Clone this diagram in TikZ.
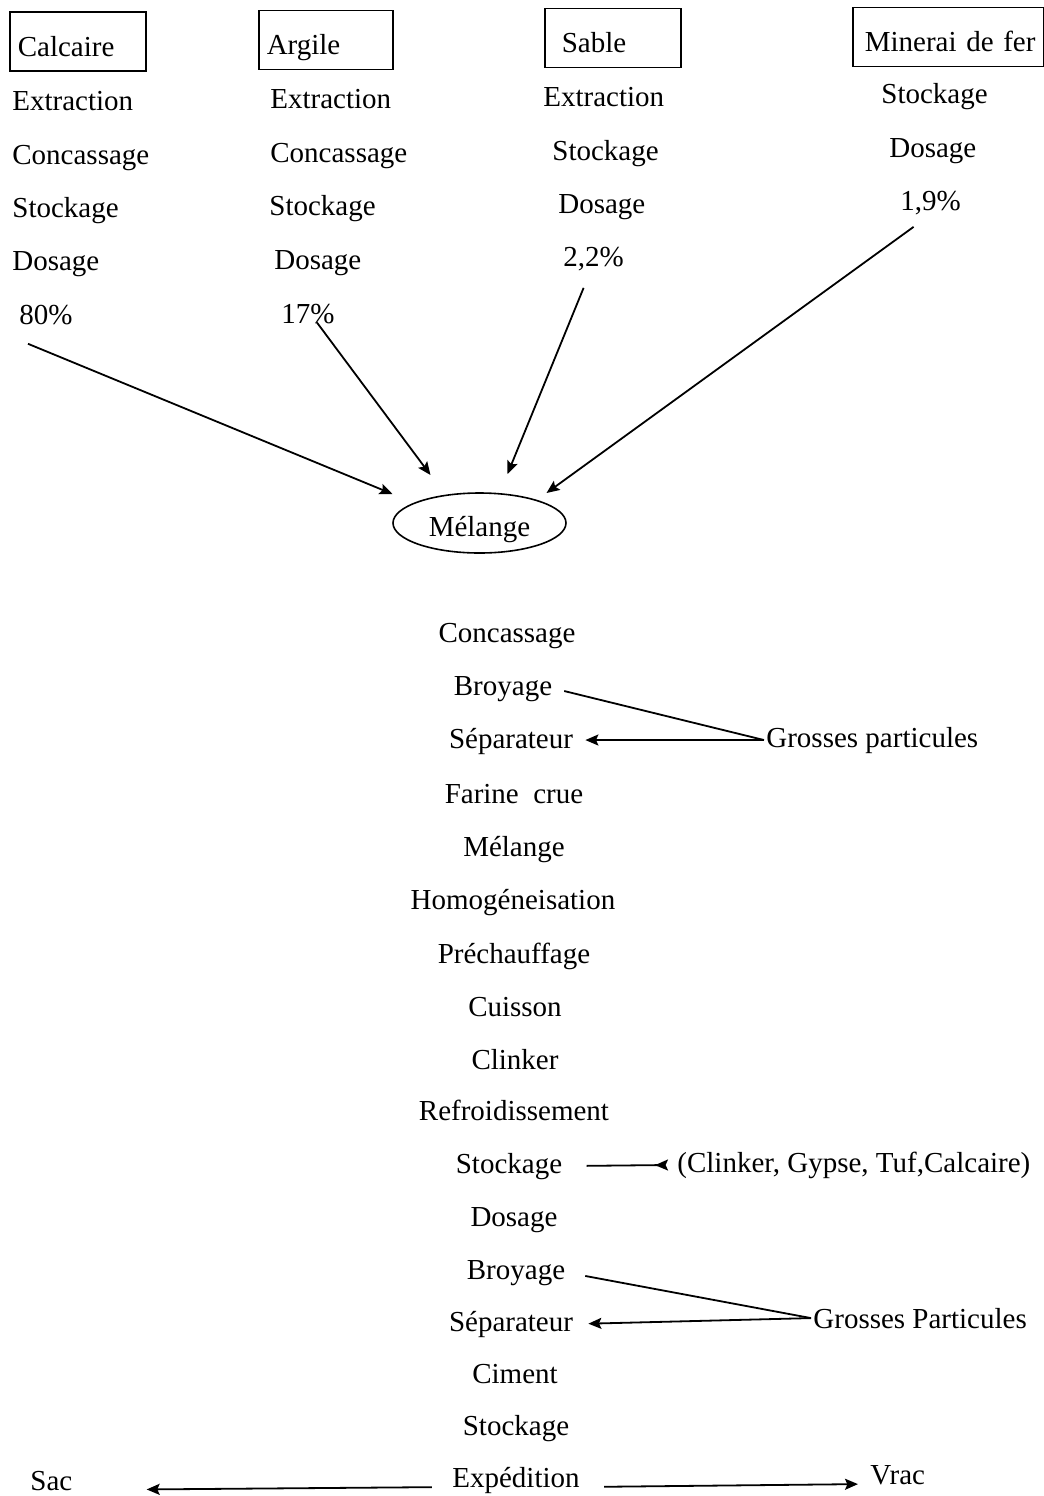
\documentclass[tikz,border=0pt]{standalone}
\usepackage{fontspec}
\setmainfont{Liberation Serif}
\usetikzlibrary{shapes.geometric, arrows.meta}

\begin{document}
\begin{tikzpicture}
        [x=0.5pt, y=-0.5pt,
        every node/.style={anchor=base, inner sep=1pt, font=\fontsize{14.5}{17}\selectfont},
        gauche/.style={anchor=base west},
        matiere/.style={draw, line width=0.8pt, anchor=west, align=left, inner xsep=4pt,
          minimum height=29.5pt, text height=14.5pt, text depth=0pt},
        melange/.style={ellipse, draw, line width=0.8pt, anchor=center, inner sep=0pt,
          minimum width=86.5pt, minimum height=30pt, text height=13pt, text depth=0pt},
        flux/.style={-{Stealth[length=6.5pt,width=5.5pt,inset=1.2pt]}, line width=0.9pt},
        retour/.style={-{Stealth[length=6.5pt,width=5.5pt,inset=1.2pt,reversed]}, line width=0.9pt},
        trait/.style={line width=0.9pt}]

    \useasboundingbox (0,0) rectangle (1044,1496);

    % matieres premieres
    \node[matiere, text width=60pt] (calc) at (9,41.5) {Calcaire};
    \node[gauche] (ext1) at (10,110) {Extraction};
    \node[gauche] (conc1) at (10,164) {Concassage};
    \node[gauche] (stock1) at (10,217) {Stockage};
    \node[gauche] (dos1) at (10,270) {Dosage};
    \node[gauche] (p80) at (17,324) {80\%};

    \node[matiere, text width=59pt] (arg) at (258,40) {Argile};
    \node[gauche] (ext2) at (268,108) {Extraction};
    \node[gauche] (conc2) at (268,162) {Concassage};
    \node[gauche] (stock2a) at (267,215) {Stockage};
    \node[gauche] (dos2) at (272,269) {Dosage};
    \node[gauche] (p17) at (279,323) {17\%};

    \node[matiere, text width=60pt] (sab) at (544,38) {\hspace*{4.5pt}Sable};
    \node[gauche] (ext3) at (541,106) {Extraction};
    \node[gauche] (stock3a) at (550,160) {Stockage};
    \node[gauche] (dos3) at (556,213) {Dosage};
    \node[gauche] (p22) at (561,266) {2,2\%};

    \node[matiere, text width=87.5pt] (fer) at (852,37) {\hspace*{2pt}Minerai de fer};
    \node[gauche] (stock4a) at (879,103) {Stockage};
    \node[gauche] (dos4) at (887,157) {Dosage};
    \node[gauche] (p19) at (898,210) {1,9\%};

    \node[melange] (mel) at (479.5,523) {Mélange};

    \draw[flux] ([shift={(11,17)}]p80.south west) -- ([shift={(-87,-29)}]mel.center);
    \draw[flux] ([shift={(9,9)}]p17.center) -- ([shift={(-49,-48)}]mel.center);
    \draw[flux] ([shift={(-10,15)}]p22.south) -- ([shift={(28,-49)}]mel.center);
    \draw[flux] ([shift={(-17,10)}]p19.south) -- ([shift={(67,-30)}]mel.center);

    % chaine de fabrication
    \node (conc) at (507,642) {Concassage};
    \node (broy1) at (503,695) {Broyage};
    \node (sep1) at (511,748) {Séparateur};
    \node (farine) at (514,803) {Farine\ \ crue};
    \node (mel2) at (514,856) {Mélange};
    \node (homog) at (513,909) {Homogéneisation};
    \node (prech) at (514,963) {Préchauffage};
    \node (cuis) at (515,1016) {Cuisson};
    \node (clink) at (515,1069) {Clinker};
    \node (refr) at (514,1120) {Refroidissement};
    \node (stock2) at (509,1173) {Stockage};
    \node (dos) at (514,1226) {Dosage};
    \node (broy2) at (516,1279) {Broyage};
    \node (sep2) at (511,1331) {Séparateur};
    \node (cim) at (515,1383) {Ciment};
    \node (stock3) at (516,1435) {Stockage};
    \node (exped) at (516,1487) {Expédition};

    \node[gauche] (gp1) at (764,747) {Grosses particules};
    \node[gauche] (ajout) at (675,1172) {(Clinker, Gypse, Tuf,Calcaire)};
    \node[gauche] (gp2) at (811,1328) {Grosses Particules};
    \node[gauche] (sac) at (28,1490) {Sac};
    \node[gauche] (vrac) at (868,1484) {Vrac};

    \draw[trait, shorten <=5pt] (broy1.east) -- (gp1.west);
    \draw[flux, shorten >=5pt] (gp1.west) -- (gp1.west -| sep1.east);

    \draw[retour, shorten <=11pt, shorten >=3.5pt] (stock2.east) -- (ajout.west);

    \draw[trait, shorten <=9pt] (broy2.east) -- (gp2.west);
    \draw[flux, shorten >=6.5pt] (gp2.west) -- (sep2.east);

    \draw[flux, shorten <=9pt, shorten >=36pt] (exped.base west) -- (sac.base east);
    \draw[flux, shorten <=11pt, shorten >=5pt] (exped.base east) -- (vrac.base west);
\end{tikzpicture}
\end{document}
